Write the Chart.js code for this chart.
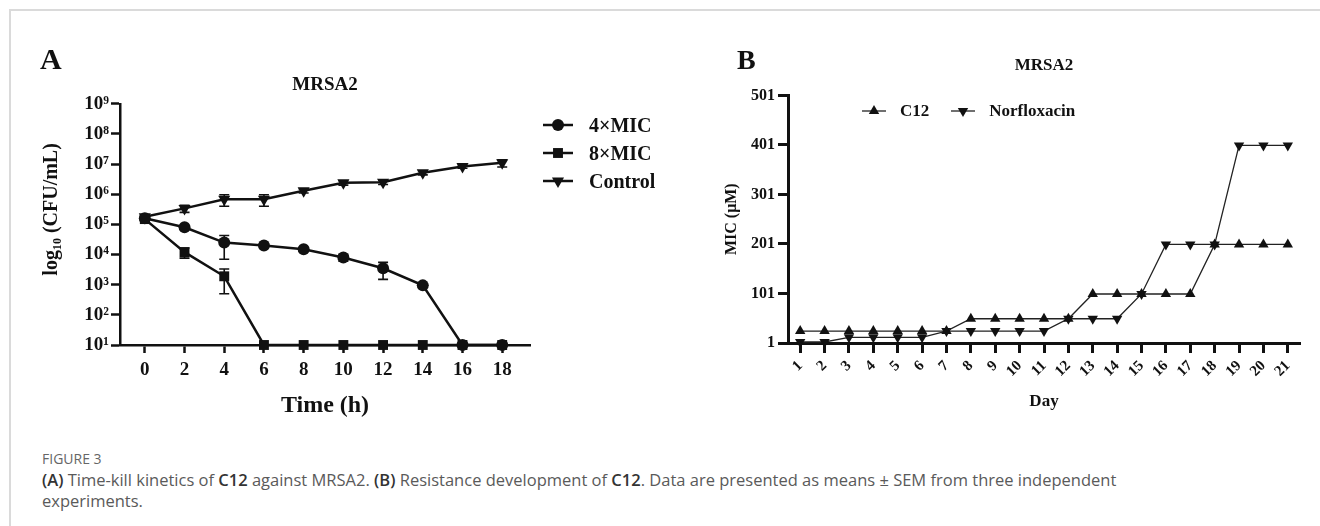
<!DOCTYPE html>
<html>
<head>
<meta charset="utf-8">
<script src="https://cdn.jsdelivr.net/npm/chart.js@4.4.1/dist/chart.umd.min.js"></script>
<style>
  html, body { margin: 0; padding: 0; background: #fff; }
  .figure { position: relative; width: 1320px; height: 526px; overflow: hidden; }
  .frame { position: absolute; left: 9px; top: 9px; width: 1330px; height: 540px; border-top: 2px solid #dadada; border-left: 2px solid #dadada; }
  .panel { position: absolute; top: 0; width: 660px; height: 430px; }
  #js-chartA { left: 0; }
  #js-chartB { left: 660px; }
  .tag { position: absolute; font: bold 30px "Liberation Serif", serif; color: #111; line-height: 1; }
  .legend { position: absolute; list-style: none; margin: 0; padding: 0; font: bold 20px "Liberation Serif", serif; color: #111; }
  .legend__item { display: flex; align-items: center; height: 28px; }
  .legend__item canvas { margin-right: 16px; }
  .legend--row { display: flex; font-size: 17px; }
  .legend--row .legend__item { margin-right: 22px; }
  .legend--row .legend__item canvas { margin-right: 14px; }
  .caption { position: absolute; left: 42px; top: 449px; font-family: "Open Sans", sans-serif; color: #5a5a5a; }
  .caption__label { font-size: 14px; line-height: 20px; color: #666; }
  .caption p { margin: 0; font-size: 16.5px; line-height: 21px; }
  .caption b { color: #333; font-weight: 600; }
</style>
</head>
<body>
<div class="figure">
  <div class="frame"></div>
  <canvas id="js-chartA" class="panel" width="660" height="430"></canvas>
  <canvas id="js-chartB" class="panel" width="660" height="430"></canvas>
  <div class="tag" style="left:40px; top:44px;">A</div>
  <div class="tag" style="left:737px; top:46px; font-size:28px;">B</div>
  <ul class="legend" id="js-legend-A" style="left:543px; top:111px;"></ul>
  <ul class="legend legend--row" id="js-legend-B" style="left:862px; top:97px;"></ul>
  <div class="caption">
    <div class="caption__label">FIGURE 3</div>
    <p><b>(A)</b> Time-kill kinetics of <b>C12</b> against MRSA2. <b>(B)</b> Resistance development of <b>C12</b>. Data are presented as means ± SEM from three independent<br>experiments.</p>
  </div>
</div>
<script>
'use strict'

// A: time-kill kinetics (CFU/mL, mean and SEM)
const hours = [0, 2, 4, 6, 8, 10, 12, 14, 16, 18]
const mic4Cfu = [1.6e5, 8.0e4, 2.5e4, 2.0e4, 1.5e4, 8.0e3, 3.5e3, 9.5e2, 10, 10]
const mic4Sem = [1.5e4, 8.0e3, 1.8e4, 2.0e3, 2.0e3, 2.0e3, 2.0e3, 1.0e2, 0, 0]
const mic8Cfu = [1.5e5, 1.2e4, 1.9e3, 10, 10, 10, 10, 10, 10, 10]
const mic8Sem = [1.5e4, 4.4e3, 1.4e3, 0, 0, 0, 0, 0, 0, 0]
const controlCfu = [1.8e5, 3.4e5, 6.8e5, 6.8e5, 1.3e6, 2.4e6, 2.5e6, 5.2e6, 8.3e6, 1.1e7]
const controlSem = [2.0e4, 9.0e4, 2.8e5, 2.8e5, 2.0e5, 4.0e5, 4.0e5, 8.0e5, 1.0e6, 3.0e6]
const hourTicks = [0, 2, 4, 6, 8, 10, 12, 14, 16, 18]
const cfuTicks = [1e1, 1e2, 1e3, 1e4, 1e5, 1e6, 1e7, 1e8, 1e9]

// B: resistance development (MIC, µM)
const days = ['1', '2', '3', '4', '5', '6', '7', '8', '9', '10', '11', '12', '13', '14', '15', '16', '17', '18', '19', '20', '21']
const c12Mic = [25, 25, 25, 25, 25, 25, 25, 50, 50, 50, 50, 50, 100, 100, 100, 100, 100, 200, 200, 200, 200]
const norfloxacinMic = [3, 3, 12.5, 12.5, 12.5, 12.5, 25, 25, 25, 25, 25, 50, 50, 50, 100, 200, 200, 200, 400, 400, 400]
const micTicks = [1, 101, 201, 301, 401, 501]

const ink = '#111'
const serif = '"Liberation Serif", "Times New Roman", serif'

Chart.defaults.font.family = serif
Chart.defaults.font.weight = 'bold'
Chart.defaults.color = ink
Chart.defaults.animation = false

const superscripts = '⁰¹²³⁴⁵⁶⁷⁸⁹'
const powerLabel = (value) => {
  const exp = Math.round(Math.log10(value))
  return '10' + String(exp).split('').map(d => superscripts[d]).join('')
}

const toPoints = (xs, ys) => xs.map((x, i) => ({ x: x, y: ys[i] }))

const drawIcon = (dataset, width, height) => {
  const canvas = document.createElement('canvas')
  canvas.width = width
  canvas.height = height
  const ctx = canvas.getContext('2d')
  ctx.strokeStyle = dataset.borderColor
  ctx.lineWidth = dataset.borderWidth
  ctx.beginPath()
  ctx.moveTo(0, height / 2)
  ctx.lineTo(width, height / 2)
  ctx.stroke()
  ctx.fillStyle = dataset.pointBackgroundColor
  Chart.helpers.drawPoint(ctx, {
    pointStyle: dataset.pointStyle,
    rotation: dataset.pointRotation || 0,
    radius: dataset.pointRadius,
    borderWidth: 0
  }, width / 2, height / 2)
  return canvas
}

const htmlLegendPlugin = {
  id: 'htmlLegend',
  afterUpdate(chart, args, options) {
    const ul = document.getElementById(options.containerID)
    while (ul.firstChild) {
      ul.firstChild.remove()
    }
    chart.data.datasets.forEach(dataset => {
      const li = document.createElement('li')
      li.classList.add('legend__item')
      li.appendChild(drawIcon(dataset, options.iconWidth, 16))
      li.appendChild(document.createTextNode(dataset.label))
      ul.appendChild(li)
    })
  }
}

// mean ± SEM whiskers, drawn under the markers
const errorBarPlugin = {
  id: 'errorBars',
  beforeDatasetsDraw(chart) {
    const ctx = chart.ctx
    const yScale = chart.scales.y
    ctx.save()
    ctx.strokeStyle = ink
    ctx.lineWidth = 1.6
    chart.data.datasets.forEach((dataset, i) => {
      if (!dataset.errors) return
      const meta = chart.getDatasetMeta(i)
      meta.data.forEach((point, index) => {
        const sem = dataset.errors[index]
        if (!sem) return
        const value = dataset.data[index].y
        const top = yScale.getPixelForValue(value + sem)
        const bottom = yScale.getPixelForValue(Math.max(value - sem, yScale.min))
        const x = point.x
        ctx.beginPath()
        ctx.moveTo(x, top)
        ctx.lineTo(x, bottom)
        ctx.moveTo(x - 5, top)
        ctx.lineTo(x + 5, top)
        ctx.moveTo(x - 5, bottom)
        ctx.lineTo(x + 5, bottom)
        ctx.stroke()
      })
    })
    ctx.restore()
  }
}

const lineA = { borderColor: ink, backgroundColor: ink, pointBackgroundColor: ink, pointBorderWidth: 0, borderWidth: 2.5, clip: false }
const lineB = { borderColor: '#222', backgroundColor: ink, pointBackgroundColor: ink, pointBorderWidth: 0, borderWidth: 1.3, clip: false, pointRadius: 6 }

/**
 * A: Time-kill kinetics
 */
new Chart(document.getElementById('js-chartA'), {
  type: 'line',
  data: {
    datasets: [
      { ...lineA, label: '4×MIC', data: toPoints(hours, mic4Cfu), errors: mic4Sem, pointStyle: 'circle', pointRadius: 6 },
      { ...lineA, label: '8×MIC', data: toPoints(hours, mic8Cfu), errors: mic8Sem, pointStyle: 'rect', pointRadius: 7 },
      { ...lineA, label: 'Control', data: toPoints(hours, controlCfu), errors: controlSem, pointStyle: 'triangle', pointRotation: 180, pointRadius: 7 }
    ]
  },
  options: {
    responsive: false,
    layout: { padding: { left: 20, right: 130, top: 0, bottom: 0 } },
    plugins: {
      legend: { display: false },
      tooltip: { enabled: false },
      title: { display: true, text: 'MRSA2', fullSize: false, color: ink, font: { size: 19 }, padding: { top: 74, bottom: 7 } },
      htmlLegend: { containerID: 'js-legend-A', iconWidth: 30 }
    },
    scales: {
      x: {
        type: 'linear',
        min: -1.25,
        max: 19.4,
        afterBuildTicks: (scale) => { scale.ticks = hourTicks.map(v => ({ value: v })) },
        afterFit: (scale) => { scale.height = 85 },
        grid: { drawOnChartArea: false, tickLength: 8, tickWidth: 2.5, color: ink },
        border: { color: ink, width: 2.5 },
        ticks: { font: { size: 19 }, padding: 6, maxRotation: 0 },
        title: { display: true, text: 'Time (h)', font: { size: 24 }, padding: { top: 0, bottom: 10 } }
      },
      y: {
        type: 'logarithmic',
        min: 10,
        max: 1e9,
        afterBuildTicks: (scale) => { scale.ticks = cfuTicks.map(v => ({ value: v })) },
        afterFit: (scale) => { scale.width = 100 },
        grid: { drawOnChartArea: false, tickLength: 9, tickWidth: 2.5, color: ink },
        border: { color: ink, width: 2.5 },
        ticks: { font: { size: 19 }, padding: 2, callback: (value) => powerLabel(value) },
        // leading en spaces nudge the rotated title up a little, as in the original
        title: { display: true, text: '\u2002\u2002\u2002log₁₀ (CFU/mL)', font: { size: 20 }, padding: { top: 20, bottom: 0 } }
      }
    }
  },
  plugins: [htmlLegendPlugin, errorBarPlugin]
})

/**
 * B: Resistance development
 */
new Chart(document.getElementById('js-chartB'), {
  type: 'line',
  data: {
    labels: days,
    datasets: [
      { ...lineB, label: 'C12', data: c12Mic, pointStyle: 'triangle' },
      { ...lineB, label: 'Norfloxacin', data: norfloxacinMic, pointStyle: 'triangle', pointRotation: 180 }
    ]
  },
  options: {
    responsive: false,
    layout: { padding: { left: 0, right: 20, top: 0, bottom: 0 } },
    plugins: {
      legend: { display: false },
      tooltip: { enabled: false },
      title: { display: true, text: 'MRSA2', fullSize: false, color: ink, font: { size: 17 }, padding: { top: 55, bottom: 20 } },
      htmlLegend: { containerID: 'js-legend-B', iconWidth: 24 }
    },
    scales: {
      x: {
        type: 'category',
        offset: true,
        afterFit: (scale) => { scale.height = 87 },
        grid: { drawOnChartArea: false, offset: false, tickLength: 10, tickWidth: 3, color: ink },
        border: { color: ink, width: 3 },
        ticks: { font: { size: 15 }, padding: 4, minRotation: 45, maxRotation: 45, autoSkip: false },
        title: { display: true, text: 'Day', font: { size: 17 }, padding: { top: 0, bottom: 18 } }
      },
      y: {
        type: 'linear',
        min: 1,
        max: 501,
        afterBuildTicks: (scale) => { scale.ticks = micTicks.map(v => ({ value: v })) },
        afterFit: (scale) => { scale.width = 128 },
        grid: { drawOnChartArea: false, tickLength: 10, tickWidth: 3, color: ink },
        border: { color: ink, width: 3 },
        ticks: { font: { size: 16 }, padding: 3 },
        title: { display: true, text: 'MIC (μM)', font: { size: 16 }, padding: { top: 62, bottom: 0 } }
      }
    }
  },
  plugins: [htmlLegendPlugin]
})
</script>
</body>
</html>
